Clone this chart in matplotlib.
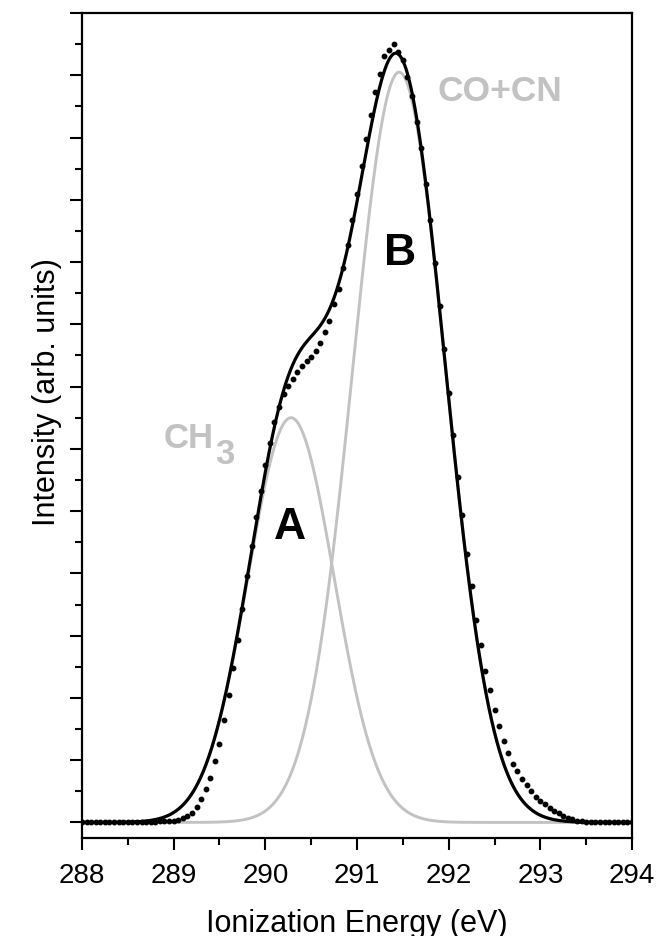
import numpy as np
import matplotlib
matplotlib.use("Agg")
import matplotlib.pyplot as plt
from matplotlib.ticker import MultipleLocator

plt.rcParams["font.family"] = ["Liberation Sans", "DejaVu Sans"]

# ============================================================
# data
# ============================================================

# measured spectrum (dots), sampled every 0.05 eV from 288.00 to 294.00
energy_start = 288.0
energy_step = 0.05
intensity_measured = [
    0, 0, 0, 0, 0, 0, 0, 0, 0, 0,                                        # 288.00
    0, 0, 0, 0.01, 0.01, 0.02, 0.02, 0.03, 0.04, 0.05,                   # 288.50
    0.06, 0.08, 0.13, 0.20, 0.31, 0.50, 0.74, 1.07, 1.43, 1.97,          # 289.00
    2.52, 3.28, 4.08, 4.96, 5.87, 6.87, 7.93, 8.87, 9.81, 10.64,         # 289.50
    11.47, 12.18, 12.87, 13.36, 13.77, 14.02, 14.26, 14.47, 14.67, 14.81,  # 290.00
    14.96, 15.15, 15.39, 15.74, 16.12, 16.64, 17.15, 17.80, 18.55, 19.35,  # 290.50
    20.19, 21.08, 21.97, 22.71, 23.46, 24.05, 24.63, 24.81, 25.00, 24.74,  # 291.00
    24.50, 23.95, 23.35, 22.50, 21.65, 20.50, 19.35, 17.97, 16.60, 15.20,  # 291.50
    13.80, 12.45, 11.10, 9.86, 8.62, 7.58, 6.50, 5.70, 4.88, 4.25,       # 292.00
    3.60, 3.09, 2.61, 2.24, 1.88, 1.64, 1.40, 1.21, 1.00, 0.83,          # 292.50
    0.68, 0.58, 0.45, 0.36, 0.30, 0.22, 0.15, 0.10, 0.05, 0.03,          # 293.00
    0.02, 0.01, 0, 0, 0, 0, 0, 0, 0, 0,                                  # 293.50
    0,                                                                   # 294.00
]

# fitted components (Gaussian): center (eV), height, sigma (eV)
peak_names = ["A", "B"]
peak_labels = ["CH", "CO+CN"]
peak_centers = [290.28, 291.46]
peak_heights = [13.0, 24.1]
peak_sigmas = [0.47, 0.505]

# ============================================================
# curves
# ============================================================

energy = energy_start + energy_step * np.arange(len(intensity_measured))
e_fine = np.linspace(288.0, 294.0, 1201)

components = []
for c, h, s in zip(peak_centers, peak_heights, peak_sigmas):
    components.append(h * np.exp(-(e_fine - c) ** 2 / (2 * s ** 2)))
envelope = np.sum(components, axis=0)

# ============================================================
# plot
# ============================================================

fig = plt.figure(figsize=(6.58, 9.37), dpi=100)
ax = fig.add_axes([0.1246, 0.1046, 0.8359, 0.8804])

gray = "#c2c2c2"

for comp in components:
    ax.plot(e_fine, comp, color=gray, lw=2.1, zorder=2)

ax.plot(e_fine, envelope, color="black", lw=2.3, zorder=3)

ax.plot(
    energy,
    intensity_measured,
    linestyle="none",
    marker="o",
    markersize=3.2,
    color="black",
    zorder=4
)

# labels on the components
ax.text(peak_centers[0] - 0.01, 9.5, peak_names[0],
        fontsize=32, fontweight="bold", ha="center", va="center")
ax.text(peak_centers[1] + 0.01, 18.3, peak_names[1],
        fontsize=32, fontweight="bold", ha="center", va="center")

ch = ax.text(288.895, 12.07, peak_labels[0], color=gray,
             fontsize=25, fontweight="bold", ha="left", va="baseline")
ax.annotate("3", xy=(1, 0), xycoords=ch, xytext=(0.5, -7),
            textcoords="offset points", color=gray,
            fontsize=25, fontweight="bold", ha="left", va="baseline")

ax.text(292.56, 23.5, peak_labels[1], color=gray,
        fontsize=25.5, fontweight="bold", ha="center", va="center")

ax.set_xlim(288, 294)
ax.set_ylim(-0.5, 26)

ax.xaxis.set_major_locator(MultipleLocator(1))
ax.xaxis.set_minor_locator(MultipleLocator(0.5))
ax.yaxis.set_major_locator(MultipleLocator(2))
ax.yaxis.set_minor_locator(MultipleLocator(1))

ax.tick_params(which="both", direction="out", width=1.5, top=False, right=False)
ax.tick_params(which="major", length=8.5)
ax.tick_params(which="minor", length=5)
ax.tick_params(axis="x", labelsize=20, pad=9)
ax.tick_params(axis="y", labelleft=False)

for sp in ax.spines.values():
    sp.set_linewidth(1.6)

ax.set_xlabel("Ionization Energy (eV)", fontsize=22, labelpad=14)
ax.set_ylabel("Intensity (arb. units)", fontsize=22, labelpad=6)
ax.yaxis.label.set_y(0.542)

fig.savefig("out.png", dpi=100)
